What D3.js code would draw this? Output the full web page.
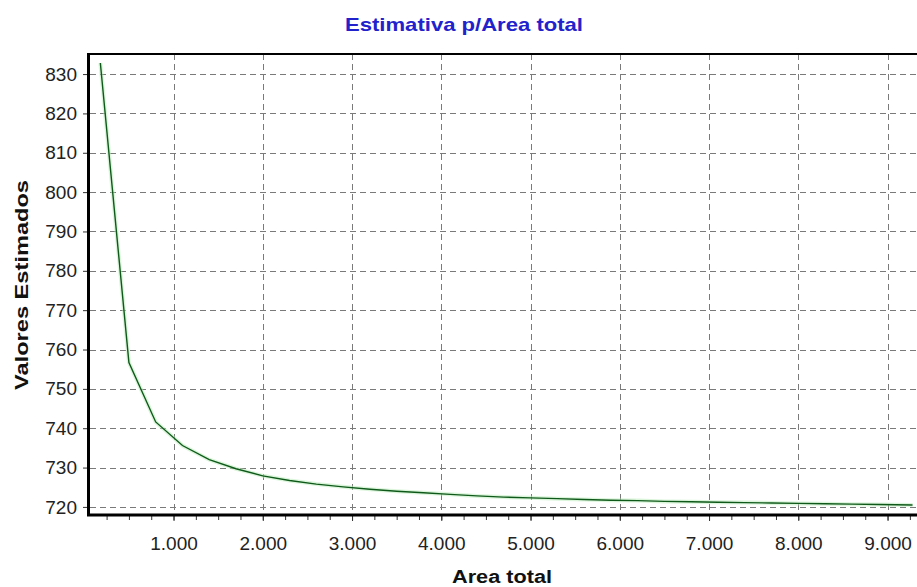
<!DOCTYPE html>
<html>
<head>
<meta charset="utf-8">
<script src="https://cdn.jsdelivr.net/npm/d3@7"></script>
<style>
  html, body { margin: 0; padding: 0; background: #fff; }
  svg { display: block; }
  text { font-family: "Liberation Sans", Arial, sans-serif; }
</style>
</head>
<body>
<svg id="chart" width="917" height="587"></svg>
<script>
// ---- data ----
const areaTotal = [180, 500, 800, 1100, 1400, 1700, 2000, 2300, 2600, 2900, 3200, 3500, 3800, 4100, 4400, 4700, 5000, 5300, 5600, 5900, 6200, 6500, 6800, 7100, 7400, 7700, 8000, 8300, 8600, 8900, 9280];
const valoresEstimados = [832.8, 756.7, 741.6, 735.6, 732.0, 729.7, 727.9, 726.7, 725.8, 725.1, 724.5, 724.0, 723.6, 723.2, 722.8, 722.5, 722.3, 722.1, 721.9, 721.7, 721.6, 721.4, 721.3, 721.2, 721.1, 721.0, 720.9, 720.8, 720.7, 720.6, 720.5];
const yTicks = [720, 730, 740, 750, 760, 770, 780, 790, 800, 810, 820, 830];
const xTicks = [1000, 2000, 3000, 4000, 5000, 6000, 7000, 8000, 9000];
const titleText = "Estimativa p/Area total";
const xTitle = "Area total";
const yTitle = "Valores Estimados";

// ---- layout ----
const svg = d3.select("#chart");
const pLeft = 90, pTop = 54, pBottom = 514, pRight = 917;

const x = d3.scaleLinear().domain([64, 9330]).range([pLeft, pRight]);
const y = d3.scaleLinear().domain([718.2, 835.1]).range([pBottom, pTop]);

const loc = d3.formatLocale({decimal: ",", thousands: ".", grouping: [3], currency: ["", ""]});
const fmtX = loc.format(",");

// gridlines
const grid = svg.append("g").attr("stroke", "#7a7a7a").attr("stroke-width", 1).attr("stroke-dasharray", "6,4").attr("fill", "none");
yTicks.forEach(t => {
  grid.append("line").attr("x1", pLeft).attr("x2", pRight).attr("y1", Math.round(y(t)) + 0.5).attr("y2", Math.round(y(t)) + 0.5);
});
xTicks.forEach(t => {
  grid.append("line").attr("x1", Math.round(x(t)) + 0.5).attr("x2", Math.round(x(t)) + 0.5).attr("y1", pTop).attr("y2", pBottom);
});

// data line
const line = d3.line().x((d, i) => x(areaTotal[i])).y(d => y(d));
svg.append("path").datum(valoresEstimados)
  .attr("d", line)
  .attr("fill", "none")
  .attr("stroke", "#b8ecb8")
  .attr("stroke-width", 4)
  .attr("stroke-opacity", 0.5);
svg.append("path").datum(valoresEstimados)
  .attr("d", line)
  .attr("fill", "none")
  .attr("stroke", "#0f5a1a")
  .attr("stroke-width", 1.4);

// axes
const yAxis = d3.axisLeft(y).tickValues(yTicks).tickSize(7).tickPadding(6).tickFormat(d3.format("d"));
const yMinor = d3.axisLeft(y).tickValues(d3.range(720, 836, 2)).tickSize(3).tickFormat("");
const xAxis = d3.axisBottom(x).tickValues(xTicks).tickSize(7).tickPadding(16).tickFormat(fmtX);
const xMinor = d3.axisBottom(x).tickValues(d3.range(250, 9330, 250)).tickSize(6).tickFormat("");

const gy = svg.append("g").attr("transform", `translate(${pLeft},0)`).call(yAxis);
const gym = svg.append("g").attr("transform", `translate(${pLeft},0)`).call(yMinor);
const gx = svg.append("g").attr("transform", `translate(0,${pBottom})`).call(xAxis);
const gxm = svg.append("g").attr("transform", `translate(0,${pBottom})`).call(xMinor);

[gy, gym, gx, gxm].forEach(g => {
  g.select(".domain").remove();
  g.selectAll(".tick line").attr("stroke", "#333");
  g.selectAll(".tick text").attr("fill", "#222").attr("font-size", 19)
    .attr("font-family", "'Liberation Sans', Arial, sans-serif");
});

// frame lines
svg.append("line").attr("x1", pLeft - 1.5).attr("x2", pLeft - 1.5).attr("y1", pTop - 1).attr("y2", pBottom + 2)
  .attr("stroke", "#000").attr("stroke-width", 3);
svg.append("line").attr("x1", pLeft - 3).attr("x2", pRight).attr("y1", pBottom + 1).attr("y2", pBottom + 1)
  .attr("stroke", "#000").attr("stroke-width", 3);
svg.append("line").attr("x1", pLeft - 3).attr("x2", pRight).attr("y1", pTop).attr("y2", pTop)
  .attr("stroke", "#000").attr("stroke-width", 2);

// titles
svg.append("text").attr("x", 464).attr("y", 31).attr("text-anchor", "middle")
  .attr("font-size", 19).attr("font-weight", "bold").attr("fill", "#2222cc")
  .attr("textLength", 238).attr("lengthAdjust", "spacingAndGlyphs")
  .text(titleText);
svg.append("text").attr("x", 502).attr("y", 583).attr("text-anchor", "middle")
  .attr("font-size", 18).attr("font-weight", "bold").attr("fill", "#111")
  .attr("textLength", 100).attr("lengthAdjust", "spacingAndGlyphs")
  .text(xTitle);
svg.append("text").attr("transform", "translate(28,285) rotate(-90)").attr("text-anchor", "middle")
  .attr("font-size", 18).attr("font-weight", "bold").attr("fill", "#111")
  .attr("textLength", 210).attr("lengthAdjust", "spacingAndGlyphs")
  .text(yTitle);
</script>
</body>
</html>
